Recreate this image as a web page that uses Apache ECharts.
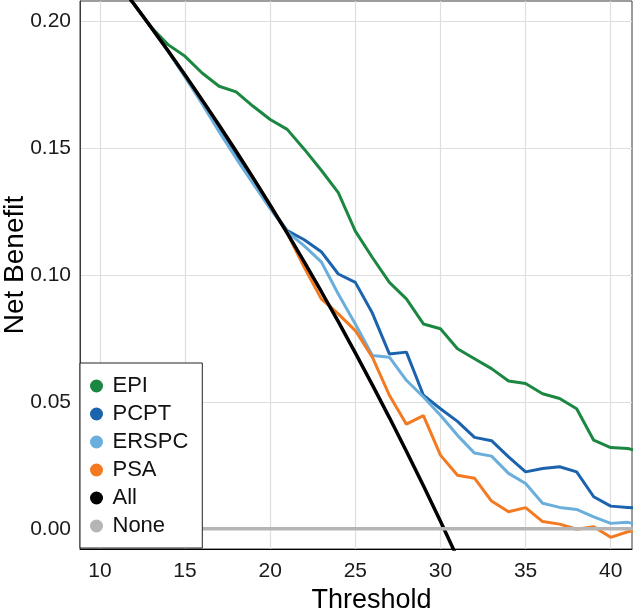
<!DOCTYPE html>
<html>
<head>
<meta charset="utf-8">
<script src="https://cdn.jsdelivr.net/npm/echarts@6/dist/echarts.min.js"></script>
<style>
  html, body { margin: 0; padding: 0; background: #fff; }
  #chart { width: 633px; height: 612px; }
</style>
</head>
<body>
<div id="chart"></div>
<script>
  // thresholds (%) shared by every curve
  var thresholds = [10, 11, 12, 13, 14, 15, 16, 17, 18, 19, 20, 21, 22, 23, 24, 25, 26,
    27, 28, 29, 30, 31, 32, 33, 34, 35, 36, 37, 38, 39, 40, 41, 42]

  var epi = [null, 0.2157, 0.2068, 0.1977, 0.1908, 0.1862, 0.1796, 0.1744, 0.1722, 0.1665, 0.1613,
    0.1574, 0.1496, 0.1413, 0.1325, 0.1173, 0.1069, 0.0971, 0.0906, 0.0807, 0.0788,
    0.0709, 0.0670, 0.0631, 0.0582, 0.0572, 0.0532, 0.0513, 0.0473, 0.0349, 0.0320, 0.0316, 0.0300]
  var pcpt = [null, 0.2157, 0.2068, 0.1977, 0.1884, 0.1785, 0.1682, 0.1578, 0.1474, 0.1372, 0.1268,
    0.1175, 0.1139, 0.1092, 0.1004, 0.0971, 0.0850, 0.0689, 0.0696, 0.0526, 0.0473,
    0.0423, 0.0360, 0.0347, 0.0283, 0.0224, 0.0237, 0.0244, 0.0224, 0.0126, 0.0089, 0.0084, 0.0078]
  var erspc = [null, 0.2157, 0.2068, 0.1977, 0.1882, 0.1780, 0.1675, 0.1565, 0.1460, 0.1360, 0.1262,
    0.1170, 0.1115, 0.1052, 0.0925, 0.0807, 0.0683, 0.0676, 0.0585, 0.0519, 0.0447,
    0.0368, 0.0298, 0.0286, 0.0218, 0.0178, 0.0100, 0.0084, 0.0076, 0.0047, 0.0021, 0.0025, 0.0010]
  var psa = [null, 0.2157, 0.2068, 0.1977, 0.1884, 0.1788, 0.1690, 0.1590, 0.1488, 0.1383, 0.1275,
    0.1165, 0.1030, 0.0906, 0.0847, 0.0781, 0.0676, 0.0526, 0.0412, 0.0446, 0.0290,
    0.0211, 0.0199, 0.0109, 0.0067, 0.0083, 0.0028, 0.0018, -0.0002, 0.0008, -0.0034, -0.0012, 0.0000]
  var all = [0.2244, 0.2157, 0.2068, 0.1977, 0.1884, 0.1788, 0.1690, 0.1590, 0.1488, 0.1383, 0.1275,
    0.1165, 0.1052, 0.0935, 0.0816, 0.0693, 0.0567, 0.0438, 0.0305, 0.0169, 0.0029,
    -0.0115, null, null, null, null, null, null, null, null, null, null, null]
  var none = [0, 0, 0, 0, 0, 0, 0, 0, 0, 0, 0, 0, 0, 0, 0, 0, 0, 0, 0, 0, 0, 0, 0, 0, 0, 0, 0, 0, 0, 0, 0, 0, 0]

  var xTicks = [10, 15, 20, 25, 30, 35, 40]
  var yTicks = [0, 0.05, 0.1, 0.15, 0.2]

  var font = 'Liberation Sans, Arial, sans-serif'

  function pairs(vals) {
    return thresholds.map(function (t, i) { return [t, vals[i]] })
  }

  function line(name, vals, color, width) {
    return {
      name: name,
      type: 'line',
      data: pairs(vals),
      showSymbol: false,
      symbol: 'circle',
      color: color,
      lineStyle: { color: color, width: width },
      connectNulls: false,
      clip: true,
      animation: false
    }
  }

  var chart = echarts.init(document.getElementById('chart'))
  chart.setOption({
    backgroundColor: '#fff',
    textStyle: { fontFamily: font },
    grid: {
      left: 80, right: 1, top: 1, bottom: 63,
      outerBoundsMode: 'none',
      containLabel: false,
      show: true, borderColor: '#3a3a3a', borderWidth: 1, backgroundColor: 'transparent'
    },
    legend: {
      orient: 'vertical',
      left: 80, top: 363,
      icon: 'circle',
      itemWidth: 22, itemHeight: 13, itemGap: 6,
      padding: [12, 14, 11, 10],
      backgroundColor: '#fff',
      borderColor: '#222', borderWidth: 1,
      textStyle: { fontFamily: font, fontSize: 22, color: '#111', lineHeight: 22 },
      data: ['EPI', 'PCPT', 'ERSPC', 'PSA', 'All', 'None']
    },
    xAxis: {
      type: 'value',
      min: 8.83, max: 41.25,
      name: 'Threshold',
      nameLocation: 'middle',
      nameGap: 38,
      nameMoveOverlap: false,
      nameTextStyle: { fontFamily: font, fontSize: 27, color: '#000', padding: [0, 0, 0, 31] },
      axisLine: { show: true, onZero: false, lineStyle: { color: '#000', width: 1 } },
      axisTick: { show: false, customValues: xTicks },
      axisLabel: { customValues: xTicks, fontSize: 21, color: '#1a1a1a', margin: 12, fontFamily: font },
      splitLine: { show: true, lineStyle: { color: '#dedede', width: 1.2 } }
    },
    yAxis: {
      type: 'value',
      min: -0.008, max: 0.208,
      name: 'Net Benefit',
      nameLocation: 'middle',
      nameRotate: 90,
      nameGap: 51,
      nameMoveOverlap: false,
      nameTextStyle: { fontFamily: font, fontSize: 28, color: '#000', padding: [0, 0, 0, 20] },
      axisLine: { show: true, onZero: false, lineStyle: { color: '#3a3a3a', width: 1 } },
      axisTick: { show: false, customValues: yTicks },
      axisLabel: {
        customValues: yTicks, fontSize: 21, color: '#1a1a1a', margin: 9, fontFamily: font,
        formatter: function (v) { return v.toFixed(2) }
      },
      splitLine: { show: true, lineStyle: { color: '#dedede', width: 1.2 } }
    },
    series: [
      line('EPI', epi, '#1b8741', 3),
      line('PCPT', pcpt, '#1c63ad', 3),
      line('ERSPC', erspc, '#6aaedb', 3),
      line('PSA', psa, '#f47a22', 3),
      line('All', all, '#000000', 3.5),
      line('None', none, '#b5b5b5', 3.5)
    ]
  })
</script>
</body>
</html>
